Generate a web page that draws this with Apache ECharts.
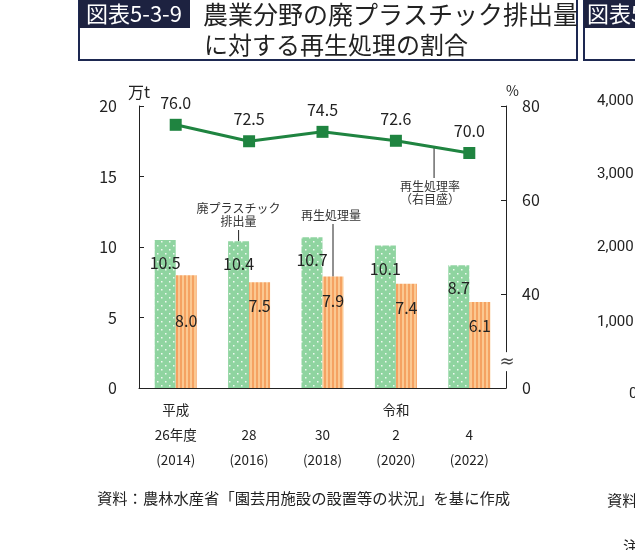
<!DOCTYPE html>
<html>
<head>
<meta charset="utf-8">
<script src="https://cdn.jsdelivr.net/npm/echarts@6/dist/echarts.min.js"></script>
<style>
  html, body { margin: 0; padding: 0; background: #fff; }
  #main { width: 635px; height: 550px; }
</style>
</head>
<body>
<div id="main"></div>
<script>
// データ
const categories = ['平成\n26年度\n(2014)', '\n28\n(2016)', '\n30\n(2018)', '令和\n2\n(2020)', '\n4\n(2022)'];
const haiPlastic = [10.5, 10.4, 10.7, 10.1, 8.7];   // 廃プラスチック排出量（万t）
const saisei = [8.0, 7.5, 7.9, 7.4, 6.1];           // 再生処理量（万t）
const saiseiRate = [76.0, 72.5, 74.5, 72.6, 70.0];  // 再生処理率（%）
const leftTicks = [0, 5, 10, 15, 20];
const rightTicks = [20, 40, 60, 80]; // 20 は「0」として表示（省略線あり）

const FONT = 'Noto Sans CJK JP';
const TXT = '#222';

// 棒の模様
function makePattern(w, h, draw) {
  const c = document.createElement('canvas');
  c.width = w; c.height = h;
  draw(c.getContext('2d'));
  return { image: c, repeat: 'repeat' };
}
const greenDots = makePattern(8, 8, ctx => {
  ctx.fillStyle = '#8fd4a0';
  ctx.fillRect(0, 0, 8, 8);
  ctx.fillStyle = 'rgba(255,255,255,0.85)';
  ctx.fillRect(1, 1, 1.5, 1.5);
  ctx.fillRect(5, 5, 1.5, 1.5);
});
const orangeStripes = makePattern(4, 4, ctx => {
  ctx.fillStyle = '#f5a262';
  ctx.fillRect(0, 0, 4, 4);
  ctx.fillStyle = '#fbc891';
  ctx.fillRect(2, 0, 2, 4);
});

const chart = echarts.init(document.getElementById('main'));

const option = {
  animation: false,
  textStyle: { fontFamily: FONT, color: TXT },
  grid: { left: 139, right: 129, top: 106, bottom: 162 },
  xAxis: {
    type: 'category',
    data: categories,
    axisLine: { lineStyle: { color: '#222', width: 1 } },
    axisTick: { show: false },
    axisLabel: { fontSize: 13.5, lineHeight: 25, color: TXT, margin: 9, fontFamily: FONT }
  },
  yAxis: [
    {
      type: 'value', min: 0, max: 20, interval: 5,
      name: '万t', nameGap: 6,
      nameTextStyle: { fontSize: 16, color: TXT, fontFamily: FONT, align: 'center' },
      axisLine: { show: true, lineStyle: { color: '#222' } },
      axisTick: { show: true, inside: true, length: 5, lineStyle: { color: '#222' } },
      axisLabel: { fontSize: 16, color: TXT, margin: 22, fontFamily: FONT },
      splitLine: { show: false }
    },
    {
      type: 'value', min: 20, max: 80, interval: 20, position: 'right',
      name: '%', nameGap: 8,
      nameTextStyle: { fontSize: 14, color: TXT, fontFamily: FONT, align: 'left', padding: [0, 0, 0, 0] },
      axisLine: { show: true, lineStyle: { color: '#222' } },
      axisTick: { show: true, inside: true, length: 5, lineStyle: { color: '#222' } },
      axisLabel: { fontSize: 16, color: TXT, margin: 16, fontFamily: FONT,
        formatter: v => (v === 20 ? '0' : String(v)) },
      splitLine: { show: false }
    }
  ],
  series: [
    {
      name: '廃プラスチック排出量', type: 'bar', data: haiPlastic,
      barWidth: 21, barGap: '0%',
      itemStyle: { color: greenDots },
      label: { show: true, position: 'insideTop', distance: 15, fontSize: 16, color: TXT,
        fontFamily: FONT, formatter: p => p.value.toFixed(1) },
      z: 2
    },
    {
      name: '再生処理量', type: 'bar',
      data: saisei.map((v, i) => i === 0
        ? { value: v, label: { distance: 38 } }
        : v),
      barWidth: 21,
      itemStyle: { color: orangeStripes },
      label: { show: true, position: 'insideTop', distance: 16, fontSize: 16, color: TXT,
        fontFamily: FONT, formatter: p => p.value.toFixed(1) },
      z: 2
    },
    {
      name: '再生処理率', type: 'line', yAxisIndex: 1, data: saiseiRate,
      symbol: 'rect', symbolSize: 12,
      lineStyle: { color: '#1f8440', width: 3 },
      itemStyle: { color: '#1f8440' },
      label: { show: true, position: 'top', distance: 8, fontSize: 16, color: TXT,
        fontFamily: FONT, formatter: p => p.value.toFixed(1) },
      z: 3
    }
  ]
};
chart.setOption(option);

// 注記・タイトル等
const px = (i, v, axis) => chart.convertToPixel(axis === 1 ? { xAxisIndex: 0, yAxisIndex: 1 } : { xAxisIndex: 0, yAxisIndex: 0 }, [i, v]);
const barOff = 10.5; // 棒の中心ずれ

const g1 = px(1, haiPlastic[1]);
const g2 = px(2, saisei[2]);
const l3 = px(3, saiseiRate[3], 1);
const l4 = px(4, saiseiRate[4], 1);
const midX = l3[0] + (l4[0] - l3[0]) * 0.52;
const midY = l3[1] + (l4[1] - l3[1]) * 0.52;
const brk = chart.convertToPixel({ yAxisIndex: 1 }, 25.5);

const small = { fontSize: 12, fill: '#333', fontFamily: FONT, textAlign: 'center', lineHeight: 13 };

chart.setOption({
  graphic: [
    // 注記
    { type: 'text', x: g1[0] - barOff, y: 202,
      style: Object.assign({ text: '廃プラスチック\n排出量' }, small) },
    { type: 'line', shape: { x1: g1[0] - barOff, y1: 230, x2: g1[0] - barOff, y2: g1[1] },
      style: { stroke: '#222', lineWidth: 1 } },
    { type: 'text', x: g2[0] + barOff - 2, y: 209,
      style: Object.assign({ text: '再生処理量' }, small) },
    { type: 'line', shape: { x1: g2[0] + barOff, y1: 224, x2: g2[0] + barOff, y2: g2[1] },
      style: { stroke: '#222', lineWidth: 1 } },
    { type: 'line', shape: { x1: midX, y1: midY, x2: midX, y2: 178 },
      style: { stroke: '#222', lineWidth: 1 } },
    { type: 'text', x: midX - 4, y: 180,
      style: Object.assign({ text: '再生処理率\n（右目盛）' }, small) },
    // 省略線
    { type: 'rect', shape: { x: 500, y: brk - 10, width: 12, height: 19 },
      style: { fill: '#fff' }, z: 50 },
    { type: 'text', x: 507, y: brk, z: 51,
      style: { text: '≈', fontSize: 18, fill: '#444', fontFamily: 'DejaVu Sans',
        textAlign: 'center', textVerticalAlign: 'middle' } },
    // タイトル
    { type: 'rect', shape: { x: 79, y: -2, width: 498, height: 62 },
      style: { fill: 'none', stroke: '#1d2851', lineWidth: 2 } },
    { type: 'rect', shape: { x: 79, y: 0, width: 111, height: 28 },
      style: { fill: '#1d2240' } },
    { type: 'text', x: 134, y: 14,
      style: { text: '図表5-3-9', fontSize: 22, fontWeight: 'normal', fill: '#fff', fontFamily: FONT,
        textAlign: 'center', textVerticalAlign: 'middle' } },
    { type: 'text', x: 203, y: 14,
      style: { text: '農業分野の廃プラスチック排出量', fontSize: 25, fill: '#222', fontFamily: FONT,
        textVerticalAlign: 'middle' } },
    { type: 'text', x: 204, y: 45,
      style: { text: 'に対する再生処理の割合', fontSize: 24, fill: '#222', fontFamily: FONT,
        textVerticalAlign: 'middle' } },
    // 出典
    { type: 'text', x: 97, y: 498,
      style: { text: '資料：農林水産省「園芸用施設の設置等の状況」を基に作成', fontSize: 15.3,
        fill: '#222', fontFamily: FONT, textVerticalAlign: 'middle' } },
    // 隣の図表（はみ出し部分）
    { type: 'rect', shape: { x: 584, y: -2, width: 60, height: 62 },
      style: { fill: 'none', stroke: '#1d2851', lineWidth: 2 } },
    { type: 'rect', shape: { x: 584, y: 0, width: 60, height: 28 },
      style: { fill: '#1d2240' } },
    { type: 'text', x: 587, y: 14,
      style: { text: '図表5', fontSize: 22, fill: '#fff', fontFamily: FONT, textVerticalAlign: 'middle' } },
    { type: 'text', x: 597, y: 101, style: { text: '4,000', fontSize: 15, fill: '#222', fontFamily: 'Roboto', textVerticalAlign: 'middle' } },
    { type: 'text', x: 597, y: 174, style: { text: '3,000', fontSize: 15, fill: '#222', fontFamily: 'Roboto', textVerticalAlign: 'middle' } },
    { type: 'text', x: 597, y: 247, style: { text: '2,000', fontSize: 15, fill: '#222', fontFamily: 'Roboto', textVerticalAlign: 'middle' } },
    { type: 'text', x: 597, y: 322, style: { text: '1,000', fontSize: 15, fill: '#222', fontFamily: 'Roboto', textVerticalAlign: 'middle' } },
    { type: 'text', x: 629, y: 394, style: { text: '0', fontSize: 15, fill: '#222', fontFamily: 'Roboto', textVerticalAlign: 'middle' } },
    { type: 'text', x: 607, y: 500, style: { text: '資料', fontSize: 15.3, fill: '#222', fontFamily: FONT, textVerticalAlign: 'middle' } },
    { type: 'text', x: 623, y: 546, style: { text: '注', fontSize: 15.3, fill: '#222', fontFamily: FONT, textVerticalAlign: 'middle' } }
  ]
});
</script>
</body>
</html>
